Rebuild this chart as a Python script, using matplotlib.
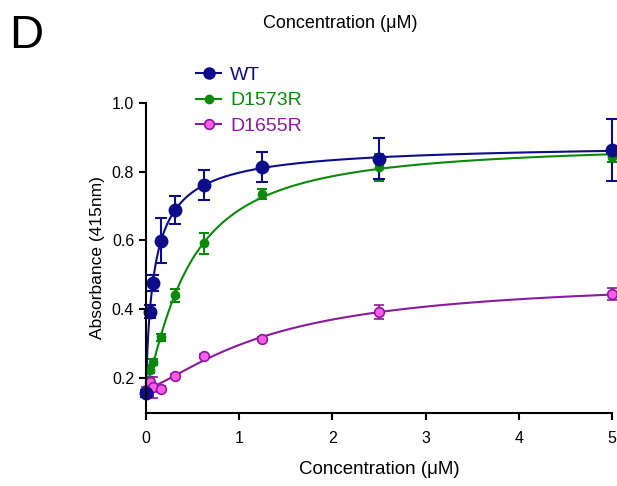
import numpy as np
import matplotlib.pyplot as plt
from matplotlib.lines import Line2D

plt.rcParams['font.family'] = ['Liberation Sans', 'DejaVu Sans']

# Concentrations (uM)
conc = [0, 0.039, 0.078, 0.156, 0.3125, 0.625, 1.25, 2.5, 5]

# Absorbance at 415nm, mean and error
wt_y = [0.155, 0.393, 0.476, 0.599, 0.689, 0.762, 0.813, 0.838, 0.862]
wt_err = [0.01, 0.02, 0.023, 0.065, 0.04, 0.043, 0.044, 0.06, 0.09]

d1573_y = [0.16, 0.223, 0.247, 0.318, 0.44, 0.592, 0.735, 0.813, 0.842]
d1573_err = [0.005, 0.01, 0.008, 0.01, 0.02, 0.03, 0.015, 0.04, 0.015]

d1655_y = [0.165, 0.189, 0.173, 0.168, 0.206, 0.264, 0.313, 0.391, 0.444]
d1655_err = [0.01, 0.015, 0.03, 0.008, 0.006, 0.006, 0.006, 0.02, 0.018]

labels = ['WT', 'D1573R', 'D1655R']


# binding fit with hill slope: Y = Y0 + Bmax*x^h/(Kd^h+x^h)
def fit_curve(x, y, xs):
    x = np.asarray(x, float)
    y = np.asarray(y, float)
    best = None
    for h in np.linspace(0.5, 2.5, 41):
        for kd in np.logspace(-2.5, 1.5, 300):
            f = x ** h / (kd ** h + x ** h)
            A = np.column_stack([np.ones_like(x), f])
            coef = np.linalg.lstsq(A, y, rcond=None)[0]
            r = np.sum((A @ coef - y) ** 2)
            if best is None or r < best[0]:
                best = (r, kd, h, coef)
    _, kd, h, coef = best
    return coef[0] + coef[1] * xs ** h / (kd ** h + xs ** h)


fig = plt.figure(figsize=(6.17, 4.86), dpi=100)
ax = fig.add_axes([0.2366, 0.1502, 0.7553, 0.6379])

xs = np.linspace(0, 5, 600)

navy = '#0d0d8a'
green = '#0a8a0a'
purple = '#8a1a9e'
pink = '#ff5ce8'

# D1655R
ax.plot(xs, fit_curve(conc, d1655_y, xs), color=purple, lw=1.5, clip_on=False)
ax.errorbar(conc, d1655_y, yerr=d1655_err, fmt='o', color=purple, mfc=pink,
            mec=purple, mew=1.2, ms=7, capsize=3.5, elinewidth=1.5,
            capthick=1.5, clip_on=False)

# D1573R
ax.plot(xs, fit_curve(conc, d1573_y, xs), color=green, lw=1.5, clip_on=False)
ax.errorbar(conc, d1573_y, yerr=d1573_err, fmt='o', color=green, ms=6,
            capsize=3.5, elinewidth=1.5, capthick=1.5, clip_on=False)

# WT
ax.plot(xs, fit_curve(conc, wt_y, xs), color=navy, lw=1.5, clip_on=False)
ax.errorbar(conc, wt_y, yerr=wt_err, fmt='o', color=navy, ms=9,
            capsize=4, elinewidth=1.5, capthick=1.5, clip_on=False)

ax.set_xlim(0, 5)
ax.set_ylim(0.098, 1.0)
ax.set_xticks([0, 1, 2, 3, 4, 5])
ax.set_yticks([0.2, 0.4, 0.6, 0.8, 1.0])
ax.set_yticklabels(['0.2', '0.4', '0.6', '0.8', '1.0'])
for s in ['top', 'right']:
    ax.spines[s].set_visible(False)
for s in ['left', 'bottom']:
    ax.spines[s].set_linewidth(1.5)
ax.tick_params(direction='out', length=5, width=1.5, labelsize=11.5)
ax.tick_params(axis='y', pad=3.5)
ax.tick_params(axis='x', pad=8)

ax.set_xlabel('Concentration (\u03bcM)', fontsize=13.5, labelpad=11)
ax.set_ylabel('Absorbance (415nm)', fontsize=12.5, labelpad=5)

fig.text(0.551, 0.951, 'Concentration (\u03bcM)', fontsize=13,
         ha='center', va='center')
fig.text(0.015, 0.925, 'D', fontsize=34, ha='left', va='center')

handles = [
    Line2D([], [], color=navy, marker='o', ms=8, lw=1.5),
    Line2D([], [], color=green, marker='o', ms=6, lw=1.5),
    Line2D([], [], color=purple, marker='o', mfc=pink, mec=purple, mew=1.2,
           ms=7, lw=1.5),
]
leg = fig.legend(handles, labels, loc='upper left',
                 bbox_to_anchor=(0.305, 0.880), frameon=False,
                 fontsize=14, handlelength=1.3, handletextpad=0.45,
                 labelspacing=0.42, borderaxespad=0)
for t, c in zip(leg.get_texts(), [navy, green, purple]):
    t.set_color(c)

fig.savefig('out.png', dpi=100)
